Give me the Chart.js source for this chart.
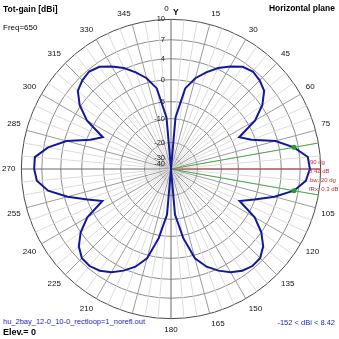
<!DOCTYPE html>
<html><head><meta charset="utf-8">
<script src="https://cdn.jsdelivr.net/npm/chart.js@4/dist/chart.umd.min.js"></script>
<style>
html,body{margin:0;padding:0;background:#fff;}
#wrap{position:relative;width:339px;height:339px;overflow:hidden;font-family:'Liberation Sans',Arial,sans-serif;}
canvas{position:absolute;left:0;top:0;}
.t{position:absolute;white-space:nowrap;line-height:1;color:#000;}
.b{font-weight:bold;}
.blue{color:#1c2cae;}
.bg{background:#fff;}
</style></head><body>
<div id="wrap">
<canvas id="c" width="339" height="339"></canvas>
<div class="t b" style="left:3px;top:5px;font-size:8.5px">Tot-gain [dBi]</div>
<div class="t" style="left:3px;top:24px;font-size:8px">Freq=650</div>
<div class="t b" style="right:4px;top:4px;font-size:8.5px">Horizontal plane</div>
<div class="t b" style="left:173px;top:8px;font-size:8.5px">Y</div>
<div class="t blue bg" style="left:3px;top:317px;font-size:7.5px;padding:1px 1px 0 0">hu_2bay_12-0_10-0_rectloop=1_norefl.out</div>
<div class="t b bg" style="left:3px;top:327.5px;font-size:9px">Elev.= 0</div>
<div class="t blue" style="right:4px;top:318.5px;font-size:7.5px">-152 &lt; dBi &lt; 8.42</div>
</div>
<script>
// Azimuth angles (deg, clockwise from top), every 5 degrees
const ANGLES = [0,5,10,15,20,25,30,35,40,45,50,55,60,65,70,75,80,85,
  90,95,100,105,110,115,120,125,130,135,140,145,150,155,160,165,170,175,
  180,185,190,195,200,205,210,215,220,225,230,235,240,245,250,255,260,265,
  270,275,280,285,290,295,300,305,310,315,320,325,330,335,340,345,350,355];
// Total gain in dBi at each angle
const GAIN_DB = [-152,-9.6,-1.7,0.9,2.6,4.2,5.3,6.3,6.7,6.4,5.8,4.2,1.5,-3.2,-0.8,3.6,6.3,8.2,
  8.42,7.9,6.3,3.4,-0.1,-3.1,1.4,4.0,5.6,6.5,6.6,6.2,5.4,4.3,2.8,0.6,-4.4,-11.9,
  -152,-11.9,-4.4,0.6,2.8,4.3,5.4,6.2,6.6,6.5,5.6,4.0,1.4,-3.1,-0.1,3.4,6.3,7.8,
  8.12,8.1,6.3,3.6,-0.8,-3.2,1.5,4.2,5.8,6.4,6.7,6.3,5.3,4.2,2.6,0.9,-1.7,-9.6];
// Radial grid rings (dBi) and their tick labels
const RING_DB = [10,7,4,0,-5,-10,-20,-30,-40];
const RING_LABELS = ['10','7','4','0','-5','-10','-20','-30','-40'];
// Angle tick labels shown every 15 degrees
const ANGLE_LABELS = ANGLES.map(a => a % 15 === 0 ? String(a) : '');
// Annotation values
const MAX_DIR = 90;
const BW_DIRS = [80, 100];
const MIN_DB = -152;
const NOTE_TEXT = ['90 dg','8.42 dB','bw: 20 dg','fRx: 0.3 dB'];

// ---- scale calibration of the 4nec2 log-like radial axis (not data) ----
const SCALE_MAX = 150;
const CAL_R = [150,129.5,110.5,89.5,67.5,50.5,26.5,11.5,5.5];
function dbToR(db){
  if (db >= RING_DB[0]) return CAL_R[0];
  for (let i = 0; i < RING_DB.length - 1; i++) {
    const d1 = RING_DB[i], d2 = RING_DB[i+1];
    if (db <= d1 && db >= d2) {
      return CAL_R[i+1] + (CAL_R[i]-CAL_R[i+1]) * (db-d2)/(d1-d2);
    }
  }
  const last = RING_DB[RING_DB.length-1];
  return Math.max(0, CAL_R[CAL_R.length-1] * (db - MIN_DB)/(last - MIN_DB));
}

const idxOf = a => ANGLES.indexOf(a);
const lineData = dirs => ANGLES.map((a,i) => {
  if (dirs.includes(a)) return SCALE_MAX;
  if (i > 0 && dirs.includes(ANGLES[i-1])) return 0;
  return null;
});
const dotData = ANGLES.map((a,i) => BW_DIRS.includes(a) ? dbToR(GAIN_DB[i]) : null);

const ringLabels = {
  id: 'ringLabels',
  beforeDatasetsDraw(chart){
    const s = chart.scales.r, ctx = chart.ctx;
    ctx.save();
    ctx.font = '7.5px "Liberation Sans", Arial, sans-serif';
    ctx.fillStyle = '#222';
    ctx.textAlign = 'right';
    ctx.textBaseline = 'middle';
    RING_DB.forEach((d,i) => {
      const y = s.yCenter - s.getDistanceFromCenterForValue(dbToR(d));
      ctx.fillText(RING_LABELS[i], s.xCenter - 6, y);
    });
    ctx.restore();
  },
  afterDatasetsDraw(chart){
    const s = chart.scales.r, ctx = chart.ctx;
    const i = idxOf(MAX_DIR);
    const p = s.getPointPosition(i, s.getDistanceFromCenterForValue(dbToR(GAIN_DB[i])));
    ctx.save();
    ctx.font = '6px "Liberation Sans", Arial, sans-serif';
    ctx.fillStyle = '#c83030';
    ctx.textAlign = 'left';
    ctx.textBaseline = 'middle';
    const offs = [-7, 2, 11, 20];
    const dx = [0, -1, 0, -1];
    NOTE_TEXT.forEach((t,k) => ctx.fillText(t, p.x + dx[k], p.y + offs[k]));
    ctx.restore();
  }
};

new Chart(document.getElementById('c'), {
  type: 'radar',
  data: {
    labels: ANGLE_LABELS,
    datasets: [
      { data: dotData, showLine: false, pointRadius: 2.5, pointBackgroundColor: '#1fa31f',
        pointBorderColor: '#1fa31f', pointBorderWidth: 0, order: 0 },
      { data: GAIN_DB.map(dbToR), borderColor: '#12189c', borderWidth: 2, pointRadius: 0,
        fill: false, tension: 0, order: 1 },
      { data: lineData([MAX_DIR]), borderColor: '#b45656', borderWidth: 1, pointRadius: 0,
        fill: false, spanGaps: false, order: 2 },
      { data: lineData(BW_DIRS), borderColor: '#4aa84a', borderWidth: 1, pointRadius: 0,
        fill: false, spanGaps: false, order: 3 }
    ]
  },
  options: {
    responsive: false,
    animation: false,
    events: [],
    layout: { padding: 0 },
    plugins: { legend: { display: false }, tooltip: { enabled: false } },
    scales: {
      r: {
        min: 0, max: SCALE_MAX,
        startAngle: 0,
        afterBuildTicks: sc => {
          sc.ticks = [0].concat(RING_DB.slice().reverse().map(dbToR)).map(v => ({ value: v }));
        },
        ticks: { display: false },
        grid: { circular: true, lineWidth: 1,
          color: ctx => ctx.index === RING_DB.length ? '#4a4a4a' : '#8c8c8c' },
        angleLines: { lineWidth: 1,
          color: ctx => ctx.index % 18 === 0 ? '#6a6a6a' : (ctx.index % 3 === 0 ? '#9c9c9c' : '#dcdcdc') },
        pointLabels: {
          padding: 6,
          font: { size: 8, family: "'Liberation Sans', Arial, sans-serif" },
          color: ctx => ctx.index === idxOf(MAX_DIR) ? 'rgba(0,0,0,0)' : '#111',
          callback: (l, i) => i === 0 ? l + '    ' : l
        }
      }
    }
  },
  plugins: [ringLabels]
});
</script>
</body></html>
